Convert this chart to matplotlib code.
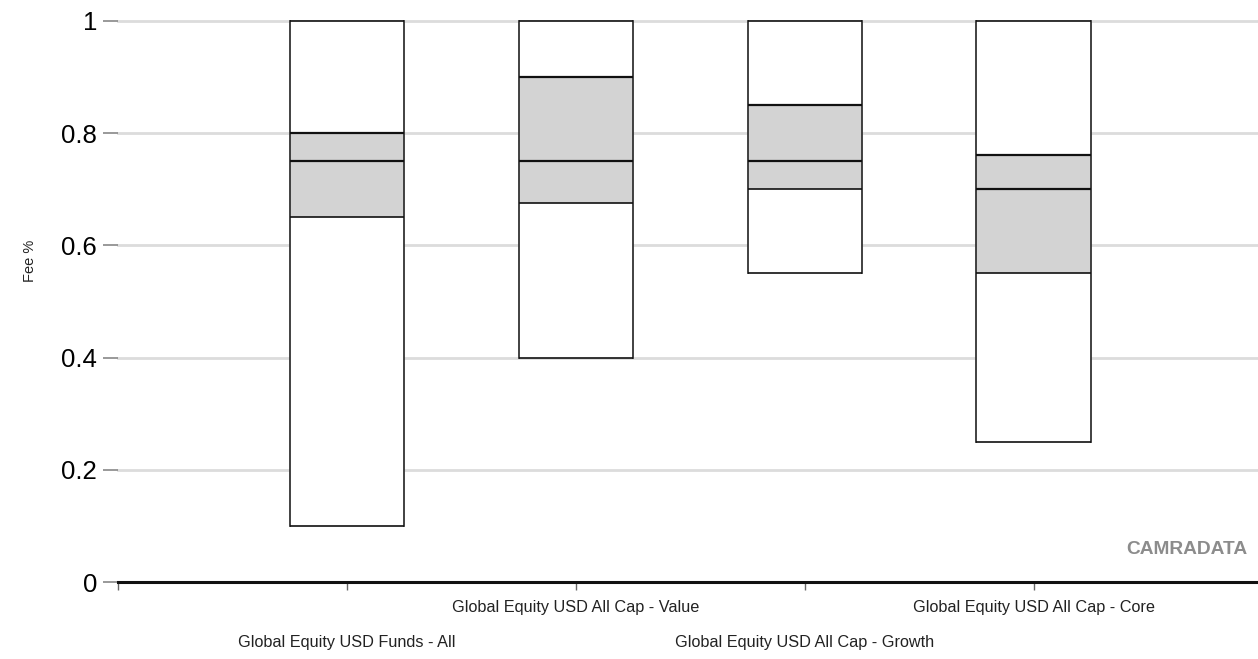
import matplotlib
matplotlib.use("Agg")
import matplotlib.pyplot as plt
from matplotlib.patches import Rectangle

categories = ["Global Equity USD Funds - All", "Global Equity USD All Cap - Value",
              "Global Equity USD All Cap - Growth", "Global Equity USD All Cap - Core"]
maximum = [1.0, 1.0, 1.0, 1.0]
upper_q = [0.80, 0.90, 0.85, 0.762]
median = [0.75, 0.75, 0.75, 0.70]
lower_q = [0.65, 0.675, 0.70, 0.55]
minimum = [0.10, 0.40, 0.55, 0.25]
y_ticks = [0, 0.2, 0.4, 0.6, 0.8, 1]
y_tick_labels = ["0", "0.2", "0.4", "0.6", "0.8", "1"]

plt.rcParams['font.family'] = ['Liberation Sans', 'DejaVu Sans']

W, H = 1258, 659
fig = plt.figure(figsize=(W / 100, H / 100), dpi=100)
ax = fig.add_axes([118 / W, (H - 582) / H, (1258 - 118) / W, (582 - 21) / H])
ax.set_xlim(0, 4.98)
ax.set_ylim(0, 1.0)

bw = 0.5
for i in range(len(categories)):
    x = i + 1
    segs = [(minimum[i], lower_q[i], "white"), (lower_q[i], upper_q[i], "#d3d3d3"),
            (upper_q[i], maximum[i], "white")]
    for lo, hi, c in segs:
        ax.add_patch(Rectangle((x - bw / 2, lo), bw, hi - lo, facecolor=c,
                               edgecolor="none", zorder=3, clip_on=False))
    ax.plot([x - bw / 2, x - bw / 2], [minimum[i], maximum[i]], color="#333333", lw=1.3, zorder=4, clip_on=False)
    ax.plot([x + bw / 2, x + bw / 2], [minimum[i], maximum[i]], color="#333333", lw=1.3, zorder=4, clip_on=False)
    for v, lw in [(minimum[i], 1.2), (lower_q[i], 1.2), (median[i], 1.6), (upper_q[i], 1.6), (maximum[i], 1.2)]:
        ax.plot([x - bw / 2, x + bw / 2], [v, v], color="#111111", lw=lw, zorder=5, clip_on=False,
                solid_capstyle="butt")

for t in y_ticks[1:]:
    ax.axhline(t, color="#dcdcdc", lw=2, zorder=1, clip_on=False)

ax.set_yticks(y_ticks)
ax.set_yticklabels(y_tick_labels, fontsize=18.5)
ax.tick_params(axis="y", length=11, color="#888888", width=1.2, pad=4)
ax.set_xticks([0, 1, 2, 3, 4])
ax.set_xticklabels([])
ax.tick_params(axis="x", length=6, color="#666666", width=1, direction="out")

for s in ["top", "right", "left"]:
    ax.spines[s].set_visible(False)
ax.spines["bottom"].set_linewidth(2.2)
ax.spines["bottom"].set_color("#111111")
ax.spines["bottom"].set_zorder(6)

for i, name in enumerate(categories):
    x = i + 1
    yoff = -0.046 if i % 2 == 1 else -0.108
    ax.text(x, yoff, name, transform=ax.get_xaxis_transform(), ha="center", va="center",
            fontsize=11.7, color="#222222")

fig.text(30 / W, 1 - 261 / H, "Fee %", rotation=90, ha="center", va="center", fontsize=10.5, color="#222222")
fig.text(1247 / W, 1 - 550 / H, "CAMRADATA", ha="right", va="center", fontsize=13.8,
         fontweight="bold", color="#8c8c8c")

fig.savefig("out.png", dpi=100)
